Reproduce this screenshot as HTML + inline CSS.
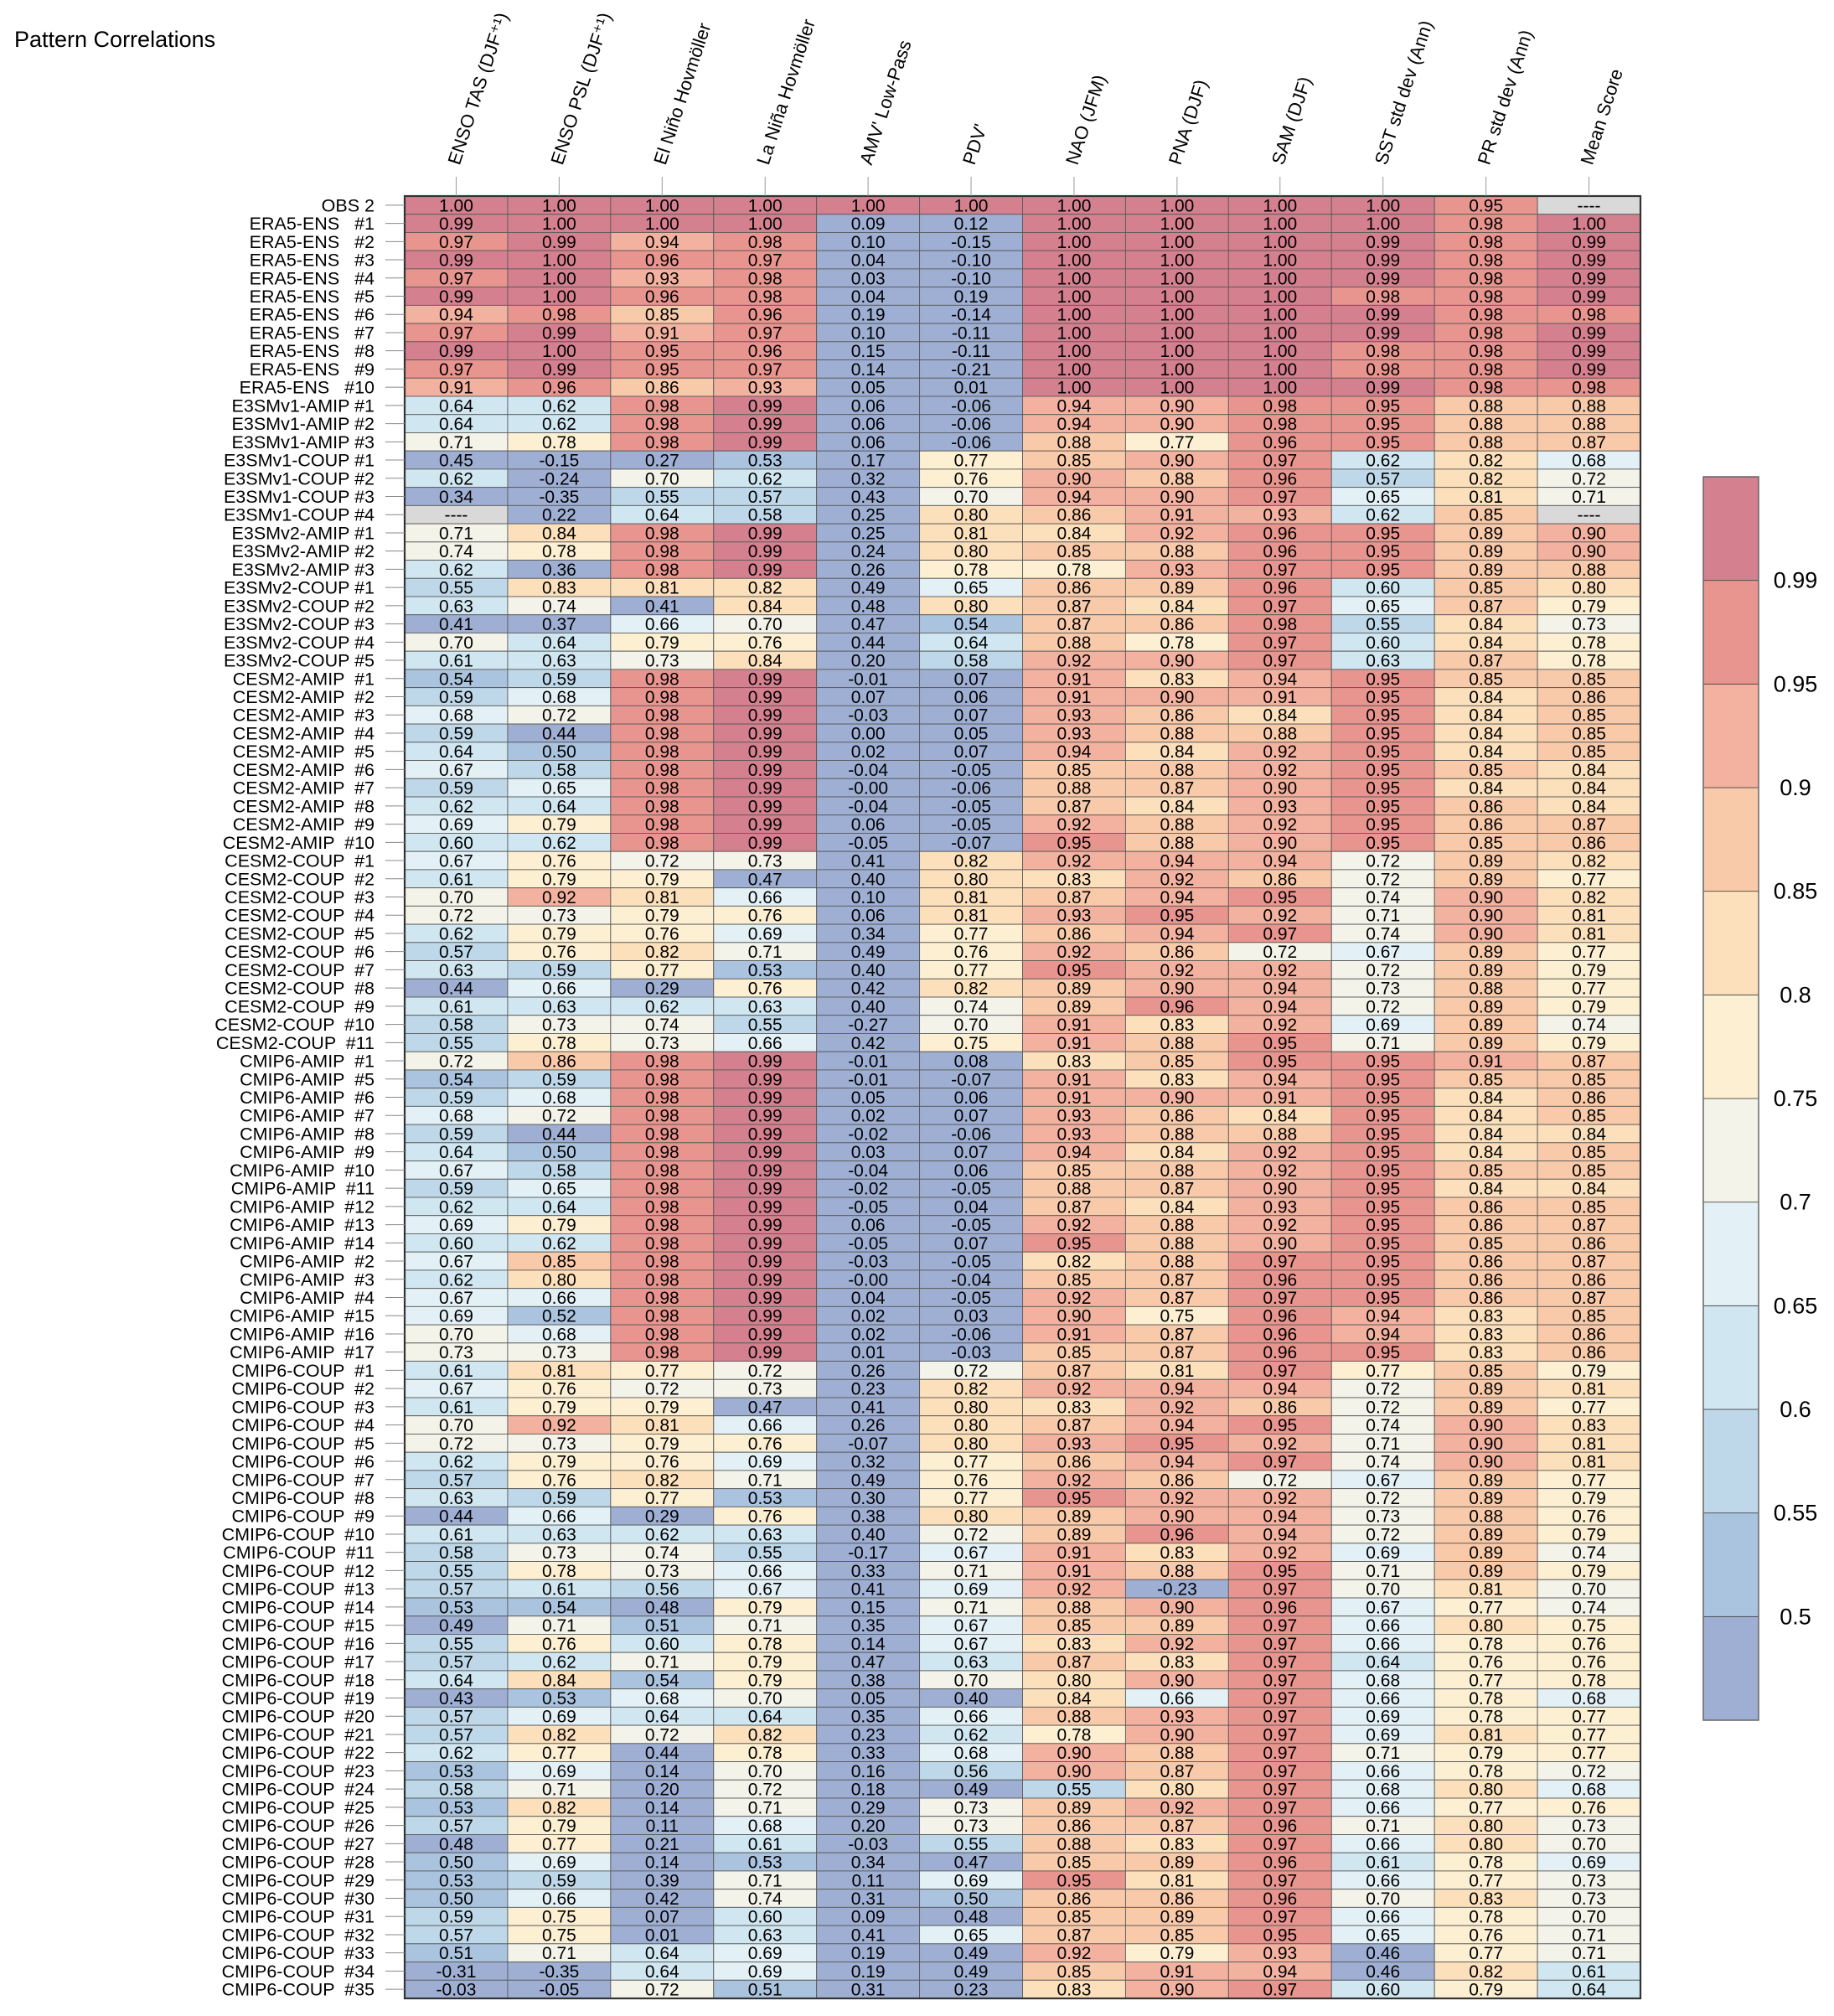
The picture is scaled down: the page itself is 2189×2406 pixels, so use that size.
<!DOCTYPE html>
<html><head><meta charset="utf-8"><title>Pattern Correlations</title>
<style>
html,body{margin:0;padding:0;background:#fff;}
svg{display:block;font-family:"Liberation Sans",sans-serif;}
</style></head>
<body>
<svg id="chart" width="2189" height="2406" viewBox="0 0 2189 2406" xmlns="http://www.w3.org/2000/svg">
<text x="17" y="56" font-size="27" fill="#000">Pattern Correlations</text>
<g id="grid"></g>
</svg>
<script>
const columns = ["ENSO TAS (DJF\u207A\u00B9)","ENSO PSL (DJF\u207A\u00B9)","El Ni\u00F1o Hovm\u00F6ller","La Ni\u00F1a Hovm\u00F6ller","AMV' Low-Pass","PDV'","NAO (JFM)","PNA (DJF)","SAM (DJF)","SST std dev (Ann)","PR std dev (Ann)","Mean Score"];
const rowLabels = ["OBS 2",
"ERA5-ENS   #1","ERA5-ENS   #2","ERA5-ENS   #3","ERA5-ENS   #4","ERA5-ENS   #5","ERA5-ENS   #6","ERA5-ENS   #7","ERA5-ENS   #8","ERA5-ENS   #9","ERA5-ENS   #10",
"E3SMv1-AMIP #1","E3SMv1-AMIP #2","E3SMv1-AMIP #3",
"E3SMv1-COUP #1","E3SMv1-COUP #2","E3SMv1-COUP #3","E3SMv1-COUP #4",
"E3SMv2-AMIP #1","E3SMv2-AMIP #2","E3SMv2-AMIP #3",
"E3SMv2-COUP #1","E3SMv2-COUP #2","E3SMv2-COUP #3","E3SMv2-COUP #4","E3SMv2-COUP #5",
"CESM2-AMIP  #1","CESM2-AMIP  #2","CESM2-AMIP  #3","CESM2-AMIP  #4","CESM2-AMIP  #5","CESM2-AMIP  #6","CESM2-AMIP  #7","CESM2-AMIP  #8","CESM2-AMIP  #9","CESM2-AMIP  #10",
"CESM2-COUP  #1","CESM2-COUP  #2","CESM2-COUP  #3","CESM2-COUP  #4","CESM2-COUP  #5","CESM2-COUP  #6","CESM2-COUP  #7","CESM2-COUP  #8","CESM2-COUP  #9","CESM2-COUP  #10","CESM2-COUP  #11",
"CMIP6-AMIP  #1","CMIP6-AMIP  #5","CMIP6-AMIP  #6","CMIP6-AMIP  #7","CMIP6-AMIP  #8","CMIP6-AMIP  #9","CMIP6-AMIP  #10","CMIP6-AMIP  #11","CMIP6-AMIP  #12","CMIP6-AMIP  #13","CMIP6-AMIP  #14","CMIP6-AMIP  #2","CMIP6-AMIP  #3","CMIP6-AMIP  #4","CMIP6-AMIP  #15","CMIP6-AMIP  #16","CMIP6-AMIP  #17",
"CMIP6-COUP  #1","CMIP6-COUP  #2","CMIP6-COUP  #3","CMIP6-COUP  #4","CMIP6-COUP  #5","CMIP6-COUP  #6","CMIP6-COUP  #7","CMIP6-COUP  #8","CMIP6-COUP  #9","CMIP6-COUP  #10","CMIP6-COUP  #11","CMIP6-COUP  #12","CMIP6-COUP  #13","CMIP6-COUP  #14","CMIP6-COUP  #15","CMIP6-COUP  #16","CMIP6-COUP  #17","CMIP6-COUP  #18","CMIP6-COUP  #19","CMIP6-COUP  #20","CMIP6-COUP  #21","CMIP6-COUP  #22","CMIP6-COUP  #23","CMIP6-COUP  #24","CMIP6-COUP  #25","CMIP6-COUP  #26","CMIP6-COUP  #27","CMIP6-COUP  #28","CMIP6-COUP  #29","CMIP6-COUP  #30","CMIP6-COUP  #31","CMIP6-COUP  #32","CMIP6-COUP  #33","CMIP6-COUP  #34","CMIP6-COUP  #35"];
const values = [
[1.00,1.00,1.00,1.00,1.00,1.00,1.00,1.00,1.00,1.00,0.95,null],
[0.99,1.00,1.00,1.00,0.09,0.12,1.00,1.00,1.00,1.00,0.98,1.00],
[0.97,0.99,0.94,0.98,0.10,-0.15,1.00,1.00,1.00,0.99,0.98,0.99],
[0.99,1.00,0.96,0.97,0.04,-0.10,1.00,1.00,1.00,0.99,0.98,0.99],
[0.97,1.00,0.93,0.98,0.03,-0.10,1.00,1.00,1.00,0.99,0.98,0.99],
[0.99,1.00,0.96,0.98,0.04,0.19,1.00,1.00,1.00,0.98,0.98,0.99],
[0.94,0.98,0.85,0.96,0.19,-0.14,1.00,1.00,1.00,0.99,0.98,0.98],
[0.97,0.99,0.91,0.97,0.10,-0.11,1.00,1.00,1.00,0.99,0.98,0.99],
[0.99,1.00,0.95,0.96,0.15,-0.11,1.00,1.00,1.00,0.98,0.98,0.99],
[0.97,0.99,0.95,0.97,0.14,-0.21,1.00,1.00,1.00,0.98,0.98,0.99],
[0.91,0.96,0.86,0.93,0.05,0.01,1.00,1.00,1.00,0.99,0.98,0.98],
[0.64,0.62,0.98,0.99,0.06,-0.06,0.94,0.90,0.98,0.95,0.88,0.88],
[0.64,0.62,0.98,0.99,0.06,-0.06,0.94,0.90,0.98,0.95,0.88,0.88],
[0.71,0.78,0.98,0.99,0.06,-0.06,0.88,0.77,0.96,0.95,0.88,0.87],
[0.45,-0.15,0.27,0.53,0.17,0.77,0.85,0.90,0.97,0.62,0.82,0.68],
[0.62,-0.24,0.70,0.62,0.32,0.76,0.90,0.88,0.96,0.57,0.82,0.72],
[0.34,-0.35,0.55,0.57,0.43,0.70,0.94,0.90,0.97,0.65,0.81,0.71],
[null,0.22,0.64,0.58,0.25,0.80,0.86,0.91,0.93,0.62,0.85,null],
[0.71,0.84,0.98,0.99,0.25,0.81,0.84,0.92,0.96,0.95,0.89,0.90],
[0.74,0.78,0.98,0.99,0.24,0.80,0.85,0.88,0.96,0.95,0.89,0.90],
[0.62,0.36,0.98,0.99,0.26,0.78,0.78,0.93,0.97,0.95,0.89,0.88],
[0.55,0.83,0.81,0.82,0.49,0.65,0.86,0.89,0.96,0.60,0.85,0.80],
[0.63,0.74,0.41,0.84,0.48,0.80,0.87,0.84,0.97,0.65,0.87,0.79],
[0.41,0.37,0.66,0.70,0.47,0.54,0.87,0.86,0.98,0.55,0.84,0.73],
[0.70,0.64,0.79,0.76,0.44,0.64,0.88,0.78,0.97,0.60,0.84,0.78],
[0.61,0.63,0.73,0.84,0.20,0.58,0.92,0.90,0.97,0.63,0.87,0.78],
[0.54,0.59,0.98,0.99,-0.01,0.07,0.91,0.83,0.94,0.95,0.85,0.85],
[0.59,0.68,0.98,0.99,0.07,0.06,0.91,0.90,0.91,0.95,0.84,0.86],
[0.68,0.72,0.98,0.99,-0.03,0.07,0.93,0.86,0.84,0.95,0.84,0.85],
[0.59,0.44,0.98,0.99,0.00,0.05,0.93,0.88,0.88,0.95,0.84,0.85],
[0.64,0.50,0.98,0.99,0.02,0.07,0.94,0.84,0.92,0.95,0.84,0.85],
[0.67,0.58,0.98,0.99,-0.04,-0.05,0.85,0.88,0.92,0.95,0.85,0.84],
[0.59,0.65,0.98,0.99,-0.001,-0.06,0.88,0.87,0.90,0.95,0.84,0.84],
[0.62,0.64,0.98,0.99,-0.04,-0.05,0.87,0.84,0.93,0.95,0.86,0.84],
[0.69,0.79,0.98,0.99,0.06,-0.05,0.92,0.88,0.92,0.95,0.86,0.87],
[0.60,0.62,0.98,0.99,-0.05,-0.07,0.95,0.88,0.90,0.95,0.85,0.86],
[0.67,0.76,0.72,0.73,0.41,0.82,0.92,0.94,0.94,0.72,0.89,0.82],
[0.61,0.79,0.79,0.47,0.40,0.80,0.83,0.92,0.86,0.72,0.89,0.77],
[0.70,0.92,0.81,0.66,0.10,0.81,0.87,0.94,0.95,0.74,0.90,0.82],
[0.72,0.73,0.79,0.76,0.06,0.81,0.93,0.95,0.92,0.71,0.90,0.81],
[0.62,0.79,0.76,0.69,0.34,0.77,0.86,0.94,0.97,0.74,0.90,0.81],
[0.57,0.76,0.82,0.71,0.49,0.76,0.92,0.86,0.72,0.67,0.89,0.77],
[0.63,0.59,0.77,0.53,0.40,0.77,0.95,0.92,0.92,0.72,0.89,0.79],
[0.44,0.66,0.29,0.76,0.42,0.82,0.89,0.90,0.94,0.73,0.88,0.77],
[0.61,0.63,0.62,0.63,0.40,0.74,0.89,0.96,0.94,0.72,0.89,0.79],
[0.58,0.73,0.74,0.55,-0.27,0.70,0.91,0.83,0.92,0.69,0.89,0.74],
[0.55,0.78,0.73,0.66,0.42,0.75,0.91,0.88,0.95,0.71,0.89,0.79],
[0.72,0.86,0.98,0.99,-0.01,0.08,0.83,0.85,0.95,0.95,0.91,0.87],
[0.54,0.59,0.98,0.99,-0.01,-0.07,0.91,0.83,0.94,0.95,0.85,0.85],
[0.59,0.68,0.98,0.99,0.05,0.06,0.91,0.90,0.91,0.95,0.84,0.86],
[0.68,0.72,0.98,0.99,0.02,0.07,0.93,0.86,0.84,0.95,0.84,0.85],
[0.59,0.44,0.98,0.99,-0.02,-0.06,0.93,0.88,0.88,0.95,0.84,0.84],
[0.64,0.50,0.98,0.99,0.03,0.07,0.94,0.84,0.92,0.95,0.84,0.85],
[0.67,0.58,0.98,0.99,-0.04,0.06,0.85,0.88,0.92,0.95,0.85,0.85],
[0.59,0.65,0.98,0.99,-0.02,-0.05,0.88,0.87,0.90,0.95,0.84,0.84],
[0.62,0.64,0.98,0.99,-0.05,0.04,0.87,0.84,0.93,0.95,0.86,0.85],
[0.69,0.79,0.98,0.99,0.06,-0.05,0.92,0.88,0.92,0.95,0.86,0.87],
[0.60,0.62,0.98,0.99,-0.05,0.07,0.95,0.88,0.90,0.95,0.85,0.86],
[0.67,0.85,0.98,0.99,-0.03,-0.05,0.82,0.88,0.97,0.95,0.86,0.87],
[0.62,0.80,0.98,0.99,-0.001,-0.04,0.85,0.87,0.96,0.95,0.86,0.86],
[0.67,0.66,0.98,0.99,0.04,-0.05,0.92,0.87,0.97,0.95,0.86,0.87],
[0.69,0.52,0.98,0.99,0.02,0.03,0.90,0.75,0.96,0.94,0.83,0.85],
[0.70,0.68,0.98,0.99,0.02,-0.06,0.91,0.87,0.96,0.94,0.83,0.86],
[0.73,0.73,0.98,0.99,0.01,-0.03,0.85,0.87,0.96,0.95,0.83,0.86],
[0.61,0.81,0.77,0.72,0.26,0.72,0.87,0.81,0.97,0.77,0.85,0.79],
[0.67,0.76,0.72,0.73,0.23,0.82,0.92,0.94,0.94,0.72,0.89,0.81],
[0.61,0.79,0.79,0.47,0.41,0.80,0.83,0.92,0.86,0.72,0.89,0.77],
[0.70,0.92,0.81,0.66,0.26,0.80,0.87,0.94,0.95,0.74,0.90,0.83],
[0.72,0.73,0.79,0.76,-0.07,0.80,0.93,0.95,0.92,0.71,0.90,0.81],
[0.62,0.79,0.76,0.69,0.32,0.77,0.86,0.94,0.97,0.74,0.90,0.81],
[0.57,0.76,0.82,0.71,0.49,0.76,0.92,0.86,0.72,0.67,0.89,0.77],
[0.63,0.59,0.77,0.53,0.30,0.77,0.95,0.92,0.92,0.72,0.89,0.79],
[0.44,0.66,0.29,0.76,0.38,0.80,0.89,0.90,0.94,0.73,0.88,0.76],
[0.61,0.63,0.62,0.63,0.40,0.72,0.89,0.96,0.94,0.72,0.89,0.79],
[0.58,0.73,0.74,0.55,-0.17,0.67,0.91,0.83,0.92,0.69,0.89,0.74],
[0.55,0.78,0.73,0.66,0.33,0.71,0.91,0.88,0.95,0.71,0.89,0.79],
[0.57,0.61,0.56,0.67,0.41,0.69,0.92,-0.23,0.97,0.70,0.81,0.70],
[0.53,0.54,0.48,0.79,0.15,0.71,0.88,0.90,0.96,0.67,0.77,0.74],
[0.49,0.71,0.51,0.71,0.35,0.67,0.85,0.89,0.97,0.66,0.80,0.75],
[0.55,0.76,0.60,0.78,0.14,0.67,0.83,0.92,0.97,0.66,0.78,0.76],
[0.57,0.62,0.71,0.79,0.47,0.63,0.87,0.83,0.97,0.64,0.76,0.76],
[0.64,0.84,0.54,0.79,0.38,0.70,0.80,0.90,0.97,0.68,0.77,0.78],
[0.43,0.53,0.68,0.70,0.05,0.40,0.84,0.66,0.97,0.66,0.78,0.68],
[0.57,0.69,0.64,0.64,0.35,0.66,0.88,0.93,0.97,0.69,0.78,0.77],
[0.57,0.82,0.72,0.82,0.23,0.62,0.78,0.90,0.97,0.69,0.81,0.77],
[0.62,0.77,0.44,0.78,0.33,0.68,0.90,0.88,0.97,0.71,0.79,0.77],
[0.53,0.69,0.14,0.70,0.16,0.56,0.90,0.87,0.97,0.66,0.78,0.72],
[0.58,0.71,0.20,0.72,0.18,0.49,0.55,0.80,0.97,0.68,0.80,0.68],
[0.53,0.82,0.14,0.71,0.29,0.73,0.89,0.92,0.97,0.66,0.77,0.76],
[0.57,0.79,0.11,0.68,0.20,0.73,0.86,0.87,0.96,0.71,0.80,0.73],
[0.48,0.77,0.21,0.61,-0.03,0.55,0.88,0.83,0.97,0.66,0.80,0.70],
[0.50,0.69,0.14,0.53,0.34,0.47,0.85,0.89,0.96,0.61,0.78,0.69],
[0.53,0.59,0.39,0.71,0.11,0.69,0.95,0.81,0.97,0.66,0.77,0.73],
[0.50,0.66,0.42,0.74,0.31,0.50,0.86,0.86,0.96,0.70,0.83,0.73],
[0.59,0.75,0.07,0.60,0.09,0.48,0.85,0.89,0.97,0.66,0.78,0.70],
[0.57,0.75,0.01,0.63,0.41,0.65,0.87,0.85,0.95,0.65,0.76,0.71],
[0.51,0.71,0.64,0.69,0.19,0.49,0.92,0.79,0.93,0.46,0.77,0.71],
[-0.31,-0.35,0.64,0.69,0.19,0.49,0.85,0.91,0.94,0.46,0.82,0.61],
[-0.03,-0.05,0.72,0.51,0.31,0.23,0.83,0.90,0.97,0.60,0.79,0.64]
];
const levels = [0.5,0.55,0.6,0.65,0.7,0.75,0.8,0.85,0.9,0.95,0.99];
const levelLabels = ["0.5","0.55","0.6","0.65","0.7","0.75","0.8","0.85","0.9","0.95","0.99"];
const binColors = ["#9eafd3","#aac3de","#bed8e9","#d0e6f1","#e3f1f6","#f3f3e9","#fcefd2","#fce0bb","#f9caa9","#f3b19f","#e9958f","#d4808f"];

const svg = document.getElementById('chart');
const NS = "http://www.w3.org/2000/svg";
const X0 = 483, X1 = 1958, Y0 = 234, Y1 = 2385;
const colW = (X1 - X0) / columns.length;
const rowH = (Y1 - Y0) / rowLabels.length;
const xCol = i => X0 + i * colW;
const yRow = j => Y0 + j * rowH;
function colorFor(v){
  if (v === null) return "#d9d9d9";
  let b = 0;
  for (let k = 0; k < levels.length; k++) if (v >= levels[k] - 1e-9) b = k + 1;
  return binColors[b];
}
function fmt(v){
  if (v === null) return "----";
  let s = Math.abs(v).toFixed(2);
  return (v < 0 ? "-" : "") + s;
}
function mk(tag, attrs){
  const e = document.createElementNS(NS, tag);
  for (const k in attrs) e.setAttribute(k, attrs[k]);
  return e;
}
const grid = document.getElementById('grid');

values.forEach((row, j) => {
  row.forEach((v, i) => {
    const r = mk('rect', {x: xCol(i), y: yRow(j), width: colW, height: rowH, fill: colorFor(v), stroke: "#5a5a5a", "stroke-width": 0.9});
    
    
    grid.appendChild(r);
    const t = mk('text', {x: xCol(i) + colW / 2, y: yRow(j) + rowH / 2 + 7.5, "text-anchor": "middle", "font-size": 21, fill: "#000"});
    
    
    t.textContent = fmt(v);
    grid.appendChild(t);
  });
});
const border = mk('rect', {x: X0, y: Y0, width: X1 - X0, height: Y1 - Y0, fill: "none", stroke: "#333", "stroke-width": 2.2});


grid.appendChild(border);

rowLabels.forEach((lab, j) => {
  const cy = yRow(j) + rowH / 2;
  const tk = mk('line', {x1: 460, x2: X0, y1: cy, y2: cy, stroke: "#888", "stroke-width": 1});
  
  
  grid.appendChild(tk);
  const t = mk('text', {x: 447, y: cy + 7.5, "text-anchor": "end", "font-size": 21.5, fill: "#000"});
  t.style.whiteSpace = "pre";
  
  
  t.textContent = lab;
  grid.appendChild(t);
});

columns.forEach((lab, i) => {
  const cx = xCol(i) + colW / 2;
  const tk = mk('line', {x1: cx, x2: cx, y1: 211, y2: Y0, stroke: "#999", "stroke-width": 1});
  
  
  grid.appendChild(tk);
  const t = mk('text', {x: 0, y: 0, "font-size": 22, fill: "#000", transform: `translate(${cx + 4},${198}) rotate(-72)`});
  
  
  t.textContent = lab;
  grid.appendChild(t);
});

const CB_X = 2033, CB_W = 66, CB_Y0 = 569, CB_Y1 = 2053;
const nb = binColors.length;
const binH = (CB_Y1 - CB_Y0) / nb;
binColors.forEach((c, k) => {
  const y = CB_Y1 - (k + 1) * binH;
  const r = mk('rect', {x: CB_X, y: y, width: CB_W, height: binH, fill: c, stroke: "#444", "stroke-width": 0.8});
  
  
  svg.appendChild(r);
});
const cbb = mk('rect', {x: CB_X, y: CB_Y0, width: CB_W, height: CB_Y1 - CB_Y0, fill: "none", stroke: "#666", "stroke-width": 1.5});


svg.appendChild(cbb);
levelLabels.forEach((lab, k) => {
  const y = CB_Y1 - (k + 1) * binH;
  const t = mk('text', {x: 2143, y: y + 9, "text-anchor": "middle", "font-size": 27, fill: "#000"});
  
  
  t.textContent = lab;
  svg.appendChild(t);
});
</script>
</body></html>
